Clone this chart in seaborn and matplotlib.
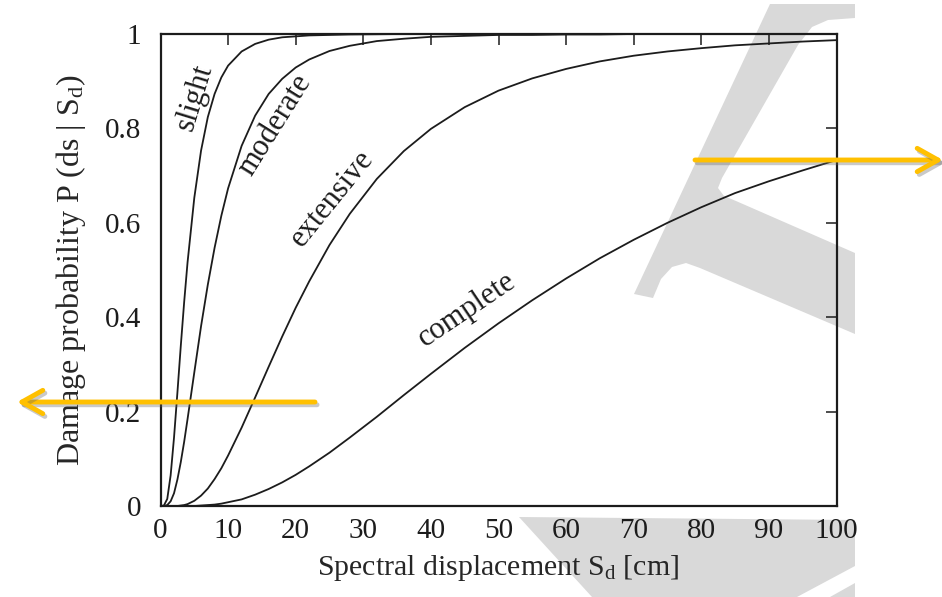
import numpy as np
import pandas as pd
import matplotlib
matplotlib.use("Agg")
import matplotlib.pyplot as plt
import matplotlib.patheffects as pe
from matplotlib.patches import Polygon
import seaborn as sns

# ---- data ----
sd = [0, 0.5, 1, 1.5, 2, 2.5, 3, 3.5, 4, 5, 6, 7, 8, 9, 10, 12, 14, 16, 18, 20,
      22, 25, 28, 32, 36, 40, 45, 50, 55, 60, 65, 70, 75, 80, 85, 90, 95, 100]
p_slight = [0, 0.001, 0.015, 0.065, 0.145, 0.240, 0.339, 0.432, 0.516, 0.653,
            0.753, 0.824, 0.873, 0.908, 0.933, 0.963, 0.979, 0.988, 0.993, 0.995,
            0.997, 0.998, 0.999, 0.9995, 1.0, 1.0, 1.0, 1.0, 1.0, 1.0,
            1.0, 1.0, 1.0, 1.0, 1.0, 1.0, 1.0, 1.0]
p_moderate = [0, 0, 0.002, 0.010, 0.027, 0.056, 0.093, 0.136, 0.184, 0.283,
              0.381, 0.469, 0.547, 0.615, 0.673, 0.763, 0.827, 0.873, 0.905, 0.929,
              0.946, 0.964, 0.975, 0.985, 0.990, 0.994, 0.996, 0.998, 0.998, 0.999,
              0.999, 1.0, 1.0, 1.0, 1.0, 1.0, 1.0, 1.0]
p_extensive = [0, 0, 0, 0, 0, 0, 0.001, 0.002, 0.004, 0.011,
               0.022, 0.037, 0.057, 0.080, 0.107, 0.166, 0.230, 0.295, 0.359, 0.420,
               0.476, 0.553, 0.619, 0.693, 0.752, 0.799, 0.845, 0.880, 0.906, 0.926,
               0.942, 0.954, 0.963, 0.970, 0.976, 0.980, 0.984, 0.987]
p_complete = [0, 0, 0, 0, 0, 0, 0, 0, 0, 0.000,
              0.001, 0.002, 0.003, 0.005, 0.008, 0.014, 0.024, 0.036, 0.050, 0.066,
              0.084, 0.113, 0.145, 0.189, 0.235, 0.280, 0.335, 0.387, 0.436, 0.482,
              0.525, 0.564, 0.600, 0.633, 0.663, 0.688, 0.711, 0.733]
states = ["slight", "moderate", "extensive", "complete"]
x_ticks = [0, 10, 20, 30, 40, 50, 60, 70, 80, 90, 100]
y_ticks = [0, 0.2, 0.4, 0.6, 0.8, 1]
y_tick_labels = ["0", "0.2", "0.4", "0.6", "0.8", "1"]

df = pd.DataFrame({
    "Sd": sd * 4,
    "P": p_slight + p_moderate + p_extensive + p_complete,
    "state": sum([[s] * len(sd) for s in states], []),
})

# ---- style ----
sns.set_theme(style="white")
plt.rcParams["font.family"] = ["Liberation Serif", "DejaVu Serif"]
plt.rcParams["mathtext.fontset"] = "custom"
plt.rcParams["mathtext.rm"] = "Liberation Serif"
plt.rcParams["mathtext.it"] = "Liberation Serif:italic"

W, H = 942, 597
fig = plt.figure(figsize=(W / 100, H / 100), dpi=100, facecolor="white")
ax = fig.add_axes([160.5 / W, (H - 506) / H, 676 / W, 472 / H])
ax.set_facecolor("none")

def fp(pts):
    return [(x / W, 1 - y / H) for x, y in pts]

# light grey watermark shapes (behind everything)
grey = "#d9d9d9"
shapeA = [(770, 4), (855, 4), (855, 18), (828, 20), (812, 27), (798, 45), (722, 178),
          (718, 188), (724, 196), (736, 201), (855, 253), (855, 334), (700, 268),
          (686, 263), (672, 267), (661, 279), (653, 298), (634, 294)]
shapeB = [(519, 517), (855, 520), (855, 566), (797, 597), (592, 597)]
shapeC = [(830, 597), (855, 583), (855, 597)]
for s in (shapeA, shapeB, shapeC):
    fig.add_artist(Polygon(fp(s), closed=True, facecolor=grey, edgecolor="none",
                           transform=fig.transFigure, zorder=-10))

sns.lineplot(data=df, x="Sd", y="P", hue="state", palette=["#1c1c1c"] * 4,
             estimator=None, legend=False, linewidth=1.3, ax=ax)

ax.set_xlim(0, 100)
ax.set_ylim(0, 1)
ax.set_xticks(x_ticks)
ax.set_xticklabels([str(t) for t in x_ticks])
ax.set_yticks(y_ticks)
ax.set_yticklabels(y_tick_labels)
ax.tick_params(direction="in", top=True, right=True, length=8, width=1.1,
               labelsize=21, colors="#1c1c1c")
ax.tick_params(axis="x", pad=9)
ax.tick_params(axis="y", pad=14)
for sp in ax.spines.values():
    sp.set_linewidth(1.6)
    sp.set_color("#1c1c1c")

ax.set_xlabel(r"Spectral displacement S$_\mathrm{d}$ [cm]", fontsize=21.5, labelpad=6)
ax.set_ylabel(r"Damage probability P (ds | S$_\mathrm{d}$)", fontsize=23, labelpad=12)

# curve labels
lbl = [("slight", 5.0, 0.866, 73), ("moderate", 16.9, 0.807, 58),
       ("extensive", 25.4, 0.652, 51), ("complete", 45.3, 0.415, 34)]
for t, xx, yy, r in lbl:
    ax.text(xx, yy, t, rotation=r, rotation_mode="anchor", ha="center",
            va="center", fontsize=22, color="#1c1c1c")

# orange arrows
orange = "#FFC000"
shadow = [pe.SimpleLineShadow(offset=(1.5, -2), shadow_color="0.4", alpha=0.35),
          pe.Normal()]
for (x0, y0), (x1, y1) in [((315, 402), (17, 402)), ((695, 160), (943, 160))]:
    a = ax.annotate("", xy=(x1, H - y1), xytext=(x0, H - y0),
                    xycoords="figure pixels", textcoords="figure pixels",
                    annotation_clip=False,
                    arrowprops=dict(arrowstyle="->,head_length=0.75,head_width=0.42",
                                    color=orange, lw=3.5, mutation_scale=20,
                                    shrinkA=0, shrinkB=0))
    a.arrow_patch.set_path_effects(shadow)
    a.set_zorder(20)

fig.savefig("out.png", dpi=100, facecolor="white")
